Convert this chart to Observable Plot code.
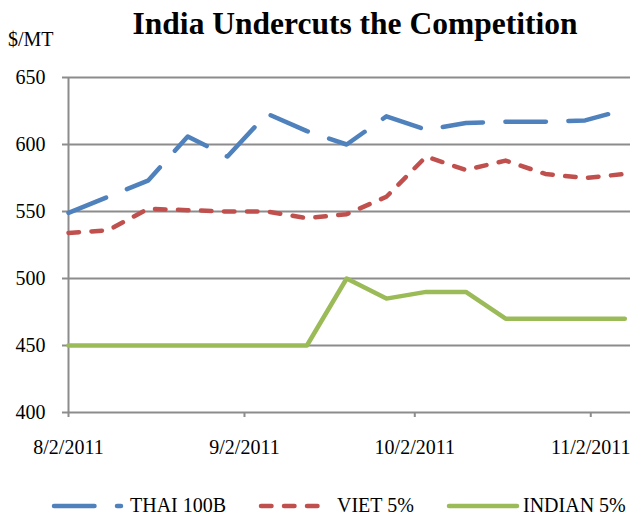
<!DOCTYPE html>
<html>
<head>
<meta charset="utf-8">
<script src="https://cdn.jsdelivr.net/npm/d3@7"></script>
<script src="https://cdn.jsdelivr.net/npm/@observablehq/plot@0.6"></script>
<style>
  html, body { margin: 0; padding: 0; background: #fff; }
  #wrap { position: relative; width: 635px; height: 517px; overflow: hidden; font-family: "Liberation Serif", "Times New Roman", serif; color: #000; }
  #title { position: absolute; left: 0; width: 710px; top: 6px; text-align: center; font-weight: bold; font-size: 31.5px; line-height: 36px; }
  #unit { position: absolute; left: 8px; top: 27px; font-size: 20px; line-height: 24px; }
  .leg { position: absolute; top: 494px; height: 23px; font-size: 20px; line-height: 23px; white-space: nowrap; }
  .sw { position: absolute; top: 497px; }
  #chart { position: absolute; left: 0; top: 0; }
</style>
</head>
<body>
<div id="wrap">
  <div id="chart"></div>
  <div id="title">India Undercuts the Competition</div>
  <div id="unit">$/MT</div>
  <div id="legend"></div>
</div>
<script>
// Weekly observations
const dates = ["2011-08-02","2011-08-09","2011-08-16","2011-08-23","2011-08-30","2011-09-06","2011-09-13","2011-09-20","2011-09-27","2011-10-04","2011-10-11","2011-10-18","2011-10-25","2011-11-01","2011-11-08"];
const thai100B = [549, 561, 573, 606, 591, 623, 610, 600, 621, 611, 616, 617, 617, 618, 626];
const viet5 =    [534, 536, 552, 551, 550, 550, 545, 548, 561, 591, 581, 588, 578, 575, 578];
const indian5 =  [450, 450, 450, 450, 450, 450, 450, 500, 485, 490, 490, 470, 470, 470, 470];
const seriesNames = ["THAI 100B", "VIET 5%", "INDIAN 5%"];
const seriesColors = ["#4F81BD", "#C0504D", "#9BBB59"];
const xTickDates = ["2011-08-02","2011-09-02","2011-10-02","2011-11-02"];
const yTicks = [400, 450, 500, 550, 600, 650];
const xDomain = ["2011-08-02","2011-11-09"];

const parse = s => new Date(s + "T00:00:00Z");
const seriesValues = [thai100B, viet5, indian5];
const rows = [];
seriesValues.forEach((vals, i) => vals.forEach((v, j) => rows.push({series: seriesNames[i], date: parse(dates[j]), value: v})));

const dashes = ["40.5,22.5", "10.5,12.5", null];
const grid = "#8c8c8c";
const fmt = d => `${d.getUTCMonth() + 1}/${d.getUTCDate()}/${d.getUTCFullYear()}`;

const lineMarks = seriesNames.map((name, i) => Plot.line(rows.filter(r => r.series === name), {
  x: "date", y: "value",
  stroke: seriesColors[i], strokeWidth: 4.5,
  strokeDasharray: dashes[i] || undefined,
  strokeLinecap: "round", strokeLinejoin: "round"
}));

const chart = Plot.plot({
  width: 635, height: 517,
  marginLeft: 68, marginRight: 5, marginTop: 77, marginBottom: 105,
  style: {fontFamily: "'Liberation Serif', 'Times New Roman', serif", fontSize: "20px", color: "#000", background: "transparent"},
  x: {type: "utc", domain: xDomain.map(parse)},
  y: {domain: [400, 650]},
  marks: [
    Plot.ruleY(yTicks.filter(t => t > 400), {stroke: grid, strokeWidth: 2}),
    Plot.ruleY([400], {stroke: grid, strokeWidth: 2}),
    Plot.ruleX([parse(xDomain[0])], {stroke: grid, strokeWidth: 2}),
    Plot.axisY({ticks: yTicks, tickSize: 6, tickPadding: 17, stroke: grid, strokeWidth: 2, fontSize: 20, fill: "#000", label: null}),
    Plot.axisX({ticks: xTickDates.map(parse), tickFormat: fmt, tickSize: 5, tickPadding: 22, stroke: grid, strokeWidth: 2, fontSize: 20, fill: "#000", label: null}),
    ...lineMarks
  ]
});
document.getElementById("chart").appendChild(chart);

// Legend
const legend = document.getElementById("legend");
const legPos = [{sw: 51, tx: 130}, {sw: 258, tx: 337}, {sw: 446, tx: 523}];
seriesNames.forEach((name, i) => {
  const sw = document.createElementNS("http://www.w3.org/2000/svg", "svg");
  sw.setAttribute("width", 74); sw.setAttribute("height", 18);
  sw.setAttribute("class", "sw");
  sw.style.left = legPos[i].sw + "px";
  const ln = document.createElementNS("http://www.w3.org/2000/svg", "line");
  ln.setAttribute("x1", 3); ln.setAttribute("x2", i === 2 ? 71 : 70);
  ln.setAttribute("y1", 9); ln.setAttribute("y2", 9);
  ln.setAttribute("stroke", seriesColors[i]);
  ln.setAttribute("stroke-width", 4.5);
  ln.setAttribute("stroke-linecap", "round");
  if (dashes[i]) ln.setAttribute("stroke-dasharray", dashes[i]);
  sw.appendChild(ln);
  legend.appendChild(sw);
  const t = document.createElement("div");
  t.className = "leg";
  t.style.left = legPos[i].tx + "px";
  t.textContent = name;
  legend.appendChild(t);
});
</script>
</body>
</html>
